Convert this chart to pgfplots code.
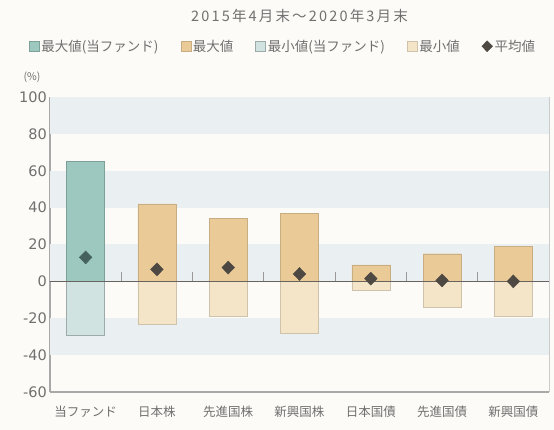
\documentclass[border=0pt]{standalone}
\usepackage{fontspec}
\setmainfont{Noto Sans CJK JP}
\newfontfamily\widefont[LetterSpace=15]{Noto Sans CJK JP}
\newfontfamily\numfont{DejaVu Sans}
\usepackage{pgfplots}
\pgfplotsset{compat=1.18}
\usetikzlibrary{backgrounds}

\definecolor{bgc}{HTML}{FCFBF7}
\definecolor{band}{HTML}{EAEFF2}
\definecolor{fundmax}{HTML}{9CC8BF}
\definecolor{fundmin}{HTML}{D0E3E1}
\definecolor{othmax}{HTML}{EACB98}
\definecolor{othmin}{HTML}{F4E4C8}
\definecolor{avgc}{HTML}{4D4842}
\definecolor{avgf}{HTML}{46625F}
\definecolor{txt}{HTML}{707070}
\definecolor{frame}{HTML}{A8A8A8}

\pgfplotsset{
    boxleg/.style={legend image code/.code={\draw[##1] (0pt,-5pt) rectangle (10pt,5pt);}},
    diamleg/.style={legend image code/.code={\draw[##1, mark size=5.5pt] plot coordinates {(5pt,0pt)};}},
}

\begin{document}
\begin{tikzpicture}[background rectangle/.style={fill=bgc}, show background rectangle, inner frame sep=0pt]
\begin{axis}[
    name=main,
    scale only axis,
    width=499pt, height=295pt,
    xmin=-0.5, xmax=6.5,
    ymin=-60, ymax=100,
    ytick={-60,-40,...,100},
    xtick={0,...,6},
    xticklabels={当ファンド,日本株,先進国株,新興国株,日本国債,先進国債,新興国債},
    major tick length=0pt,
    /pgf/number format/assume math mode=true,
    yticklabel style={font=\numfont\fontsize{14.5}{16}\selectfont, text=txt, inner sep=1pt, xshift=-2pt},
    xticklabel style={font=\fontsize{12.5}{14}\selectfont, text=txt, anchor=center, yshift=-20pt},
    axis x line*=bottom, axis y line*=left,
    axis line style={frame, line width=1.8pt},
    ylabel={(\%)},
    ylabel style={rotate=-90, at={(rel axis cs:0,1)}, anchor=center, xshift=-18pt, yshift=20pt, font=\fontsize{10.5}{12}\selectfont, text=txt},
    title={2015年4月末～2020年3月末},
    title style={at={(0.5,1.255)}, anchor=center, font=\widefont\fontsize{14.5}{16}\selectfont, text=txt},
    legend style={at={(0.467,1.172)}, anchor=center, legend columns=5, draw=none, fill=none,
        font=\fontsize{13.5}{14}\selectfont, text=txt, inner sep=0pt,
        /tikz/every even column/.append style={column sep=20pt}},
    boxleg,
    clip=false,
]
% background bands
\fill[band] (axis cs:-0.5,80) rectangle (axis cs:6.5,100);
\fill[band] (axis cs:-0.5,40) rectangle (axis cs:6.5,60);
\fill[band] (axis cs:-0.5,0) rectangle (axis cs:6.5,20);
\fill[band] (axis cs:-0.5,-40) rectangle (axis cs:6.5,-20);
\draw[frame!60, line width=0.8pt] (axis cs:6.5,-60) -- (axis cs:6.5,100);

% maxima
\addplot[ybar, bar width=38pt, bar shift=0pt, fill=fundmax, draw=fundmax!80!black, line width=0.4pt]
    coordinates {(0,65)};
\addlegendentry{最大値(当ファンド)}
\addplot[ybar, bar width=38pt, bar shift=0pt, fill=othmax, draw=othmax!85!black, line width=0.4pt]
    coordinates {(1,42) (2,34) (3,37) (4,9) (5,15) (6,19)};
\addlegendentry{最大値}
% minima
\addplot[ybar, bar width=38pt, bar shift=0pt, fill=fundmin, draw=fundmin!75!black, line width=0.4pt]
    coordinates {(0,-29)};
\addlegendentry{最小値(当ファンド)}
\addplot[ybar, bar width=38pt, bar shift=0pt, fill=othmin, draw=othmin!85!black, line width=0.4pt]
    coordinates {(1,-23) (2,-19) (3,-28) (4,-5) (5,-14) (6,-19)};
\addlegendentry{最小値}

% zero line and separators
\draw[avgc!85, line width=0.7pt] (axis cs:-0.5,0) -- (axis cs:6.5,0);
\pgfplotsinvokeforeach{0.5,1.5,2.5,3.5,4.5,5.5}{
    \draw[gray!80, line width=0.8pt] (axis cs:#1,0) -- (axis cs:#1,5);
}

% averages
\addplot[only marks, mark=diamond*, mark size=6.5pt, mark options={xscale=1.3}, color=avgf, forget plot]
    coordinates {(0,13)};
\addplot[only marks, mark=diamond*, mark size=6.5pt, mark options={xscale=1.3}, color=avgc, diamleg]
    coordinates {(1,6.5) (2,7.5) (3,4) (4,1.5) (5,0.5) (6,0)};
\addlegendentry{平均値}
\end{axis}
\pgfresetboundingbox
\path (main.south west) ++(-50pt,-38pt) rectangle ++(554pt,430pt);
\end{tikzpicture}
\end{document}
